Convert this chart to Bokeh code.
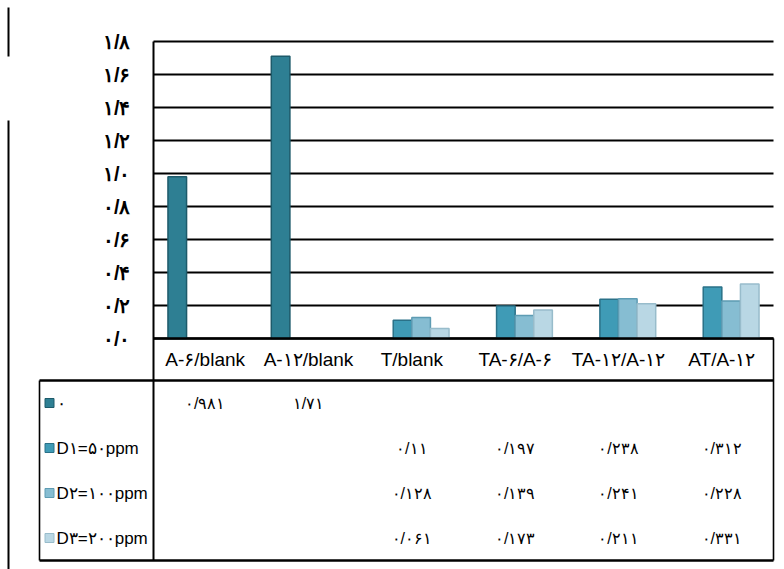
from bokeh.plotting import figure
from bokeh.models import Range1d, FixedTicker, LinearAxis
from bokeh.core.properties import value
from bokeh.embed import file_html
from bokeh.resources import INLINE

# ---------------- data ----------------
categories = ["A-۶/blank", "A-۱۲/blank", "T/blank", "TA-۶/A-۶", "TA-۱۲/A-۱۲", "AT/A-۱۲"]
series_names = ["۰", "D۱=۵۰ppm", "D۲=۱۰۰ppm", "D۳=۲۰۰ppm"]
s0_values = [0.981, 1.71, None, None, None, None]
d1_values = [None, None, 0.11, 0.197, 0.238, 0.312]
d2_values = [None, None, 0.128, 0.139, 0.241, 0.228]
d3_values = [None, None, 0.061, 0.173, 0.211, 0.331]
y_ticks = [0.0, 0.2, 0.4, 0.6, 0.8, 1.0, 1.2, 1.4, 1.6, 1.8]
y_tick_labels = ["۰/۰", "۰/۲", "۰/۴", "۰/۶", "۰/۸", "۱/۰", "۱/۲", "۱/۴", "۱/۶", "۱/۸"]

series_values = [s0_values, d1_values, d2_values, d3_values]
colors = ["#2e7f93", "#3f9bb6", "#86bdd2", "#b9d7e4"]
edges = ["#1d5a6a", "#2a7188", "#5e9cb3", "#98bccb"]
offsets = [-0.27, -0.09, 0.09, 0.27]

FONT = "Liberation Sans"
FA = str.maketrans("0123456789.", "۰۱۲۳۴۵۶۷۸۹/")


def fa(v):
    return str(v).translate(FA)


# ---------------- layout (pixels) ----------------
W, H = 784, 569
X0_PX, X6_PX = 153, 773          # category area left / right
LAB_PX = 39                      # table left border
Y0_PX, Y18_PX = 338, 41          # value 0 / value 1.8
ROW0_PX, ROWN_PX = 380, 560      # table body top / bottom
n_cat = len(categories)
n_ser = len(series_names)

U = (X6_PX - X0_PX) / n_cat                 # px per category unit
V = (Y0_PX - Y18_PX) / y_ticks[-1]          # px per value unit
T = (ROWN_PX - ROW0_PX) / n_ser             # px per table row

x_range = Range1d(-X0_PX / U, (W - X0_PX) / U)
y_range = Range1d(-(H - Y0_PX) / V, Y0_PX / V)
tab_range = Range1d(-(H - ROW0_PX) / T, ROW0_PX / T)

p = figure(x_range=x_range, y_range=y_range, width=W, height=H,
           output_backend="svg", toolbar_location=None,
           min_border_left=0, min_border_right=0, min_border_top=0,
           min_border_bottom=0, x_axis_type=None, y_axis_type=None)
p.extra_y_ranges = {"table": tab_range}
p.grid.visible = False
p.outline_line_color = None

# y axis placed at the start of the category area, running down through the table
yax = LinearAxis(ticker=FixedTicker(ticks=y_ticks), fixed_location=0,
                 bounds=(-(ROWN_PX - Y0_PX) / V, y_ticks[-1]))
yax.major_label_overrides = dict(zip(y_ticks, y_tick_labels))
yax.major_tick_line_color = None
yax.minor_tick_line_color = None
yax.axis_line_color = "black"
yax.axis_line_width = 2
yax.major_label_standoff = 17
yax.major_label_text_font = FONT
yax.major_label_text_font_size = "20px"
yax.major_label_text_font_style = "bold"
yax.major_label_text_color = "black"
p.add_layout(yax, "left")

# horizontal grid lines over the category area
p.segment(x0=[0] * len(y_ticks), x1=[n_cat] * len(y_ticks), y0=y_ticks, y1=y_ticks,
          line_color="black", line_width=2.2)

# bars
for vals, off, c, e in zip(series_values, offsets, colors, edges):
    xs = [i + 0.5 + off for i, v in enumerate(vals) if v is not None]
    tops = [v for v in vals if v is not None]
    p.vbar(x=xs, top=tops, bottom=0, width=0.18,
           fill_color=c, line_color=e, line_width=1.5)

# ---------------- data table ----------------
lx = -(X0_PX - LAB_PX) / U
cat_top = (ROW0_PX - Y0_PX) / T
p.segment(x0=[0, lx, lx], x1=[n_cat, n_cat, n_cat], y0=[cat_top, 0, -n_ser],
          y1=[cat_top, 0, -n_ser], y_range_name="table",
          line_color="black", line_width=2.5)
p.segment(x0=[lx, n_cat], x1=[lx, n_cat], y0=[-n_ser, -n_ser],
          y1=[0, cat_top], y_range_name="table",
          line_color="black", line_width=1.6)

# category labels
p.text(x=[i + 0.5 for i in range(n_cat)], y=[cat_top / 2] * n_cat, text=categories,
       y_range_name="table", text_align="center", text_baseline="middle",
       text_font=value(FONT), text_font_size="19px", text_color="black")

# series labels with colour keys
rows = [-k - 0.5 for k in range(n_ser)]
p.scatter(x=[lx + 10 / U] * n_ser, y=rows, y_range_name="table", marker="square",
          size=9, fill_color=colors, line_color=edges)
p.text(x=[lx + 17 / U] * n_ser, y=rows, text=series_names, y_range_name="table",
       text_align="left", text_baseline="middle", text_font=value(FONT),
       text_font_size="17px", text_color="black")

# values
vx, vy, vt = [], [], []
for k, vals in enumerate(series_values):
    for i, v in enumerate(vals):
        if v is not None:
            vx.append(i + 0.5)
            vy.append(-k - 0.5)
            vt.append(fa(v))
p.text(x=vx, y=vy, text=vt, y_range_name="table", text_align="center",
       text_baseline="middle", text_font=value(FONT), text_font_size="16px",
       text_color="black")

# thin vertical rule at the far left of the picture
ex = -(X0_PX - 8) / U
p.segment(x0=[ex, ex], x1=[ex, ex], y0=[(ROW0_PX - 7) / T, (ROW0_PX - 120) / T],
          y1=[(ROW0_PX - 56) / T, -(H - ROW0_PX) / T], y_range_name="table",
          line_color="black", line_width=2)

open("out.html", "w").write(file_html(p, INLINE))
